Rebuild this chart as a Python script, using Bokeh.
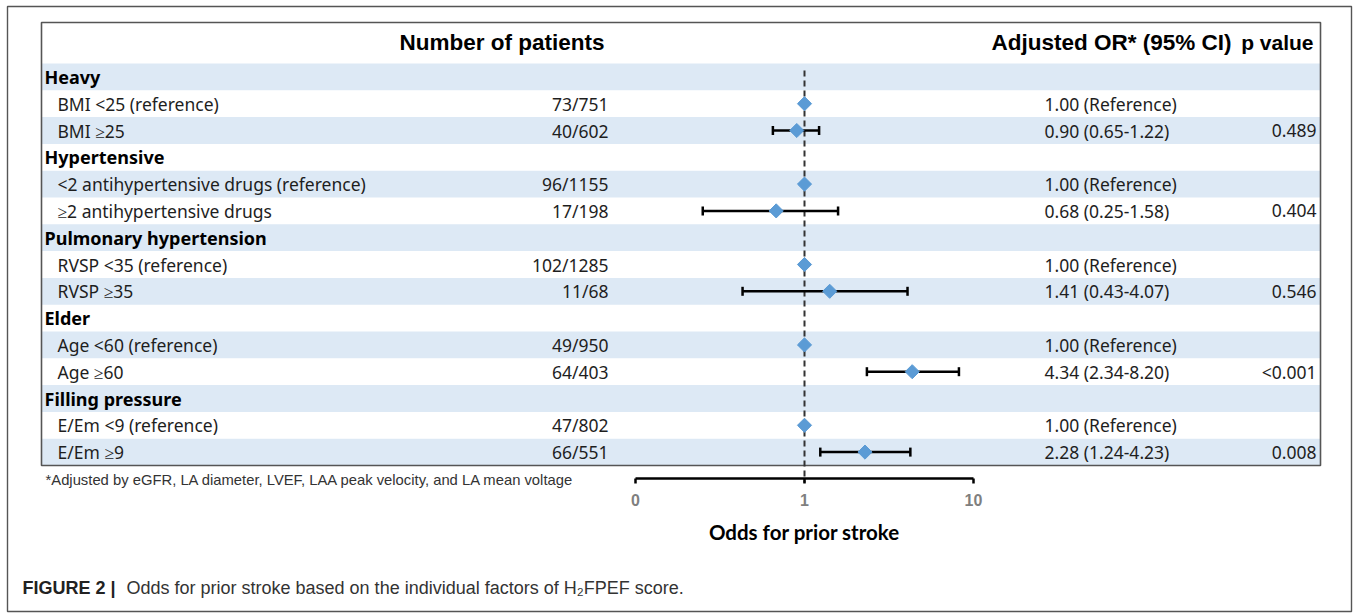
import math
from bokeh.plotting import figure
from bokeh.models import Range1d, LogScale
from bokeh.core.properties import value
from bokeh.embed import file_html
from bokeh.resources import INLINE

# ---- data -------------------------------------------------------------
groups = ["Heavy", "Hypertensive", "Pulmonary hypertension", "Elder", "Filling pressure"]
labels = [
    "BMI <25 (reference)", "BMI \u226525",
    "<2 antihypertensive drugs (reference)", "\u22652 antihypertensive drugs",
    "RVSP <35 (reference)", "RVSP \u226535",
    "Age <60 (reference)", "Age \u226560",
    "E/Em <9 (reference)", "E/Em \u22659",
]
patients = ["73/751", "40/602", "96/1155", "17/198", "102/1285",
            "11/68", "49/950", "64/403", "47/802", "66/551"]
odds = [1.00, 0.90, 1.00, 0.68, 1.00, 1.41, 1.00, 4.34, 1.00, 2.28]
ci_low = [None, 0.65, None, 0.25, None, 0.43, None, 2.34, None, 1.24]
ci_high = [None, 1.22, None, 1.58, None, 4.07, None, 8.20, None, 4.23]
p_values = ["", "0.489", "", "0.404", "", "0.546", "", "<0.001", "", "0.008"]
axis_ticks = [0.1, 1, 10]
axis_tick_labels = ["0", "1", "10"]

# ---- page geometry (pixels) -------------------------------------------
W, H = 1357, 615
BOX_L, BOX_R, BOX_T = 41, 1320, 22
ROW0, ROW_H = 63, 26.8
AX_L, AX_R, AX_Y = 635, 973, 478          # where 0.1 and 10 sit on the odds axis
DEC = (AX_R - AX_L) / 2                   # pixels per decade

BODY_FONT = value("Noto Sans")
HEAD_FONT = value("Liberation Sans")
BODY_SIZE = "17.5px"
TXT = "#1e1e1e"
BAND = "#dde9f5"
MARK = "#5b9bd5"

p = figure(width=W, height=H, x_range=Range1d(0, W), y_range=Range1d(H, 0),
           output_backend="svg", toolbar_location=None, min_border=0,
           x_axis_location=None, y_axis_location=None)
p.grid.visible = False
p.outline_line_color = None
p.background_fill_color = "white"
p.border_fill_color = "white"

# log-scaled range for the odds ratios, spanning the full canvas width
p.extra_x_ranges = {"or": Range1d(10 ** (-1 - AX_L / DEC), 10 ** (1 + (W - AX_R) / DEC))}
p.extra_x_scales = {"or": LogScale()}

# ---- rows -------------------------------------------------------------
row_text, row_x, row_style, row_y = [], [], [], []
item_rows = []
r = 0
for k, g in enumerate(groups):
    row_text.append(g); row_x.append(BOX_L + 3); row_style.append("bold")
    row_y.append(ROW0 + ROW_H * (r + 0.5)); r += 1
    for j in range(2):
        i = 2 * k + j
        row_text.append(labels[i]); row_x.append(BOX_L + 16); row_style.append("normal")
        row_y.append(ROW0 + ROW_H * (r + 0.5)); item_rows.append(ROW0 + ROW_H * (r + 0.5)); r += 1
n_rows = r

band_rows = [i for i in range(n_rows) if i % 2 == 0]
p.quad(left=BOX_L, right=BOX_R,
       top=[ROW0 + ROW_H * i for i in band_rows],
       bottom=[ROW0 + ROW_H * (i + 1) for i in band_rows],
       fill_color=BAND, line_color=None)

BOX_B = ROW0 + ROW_H * n_rows

# table frame
p.quad(left=BOX_L, right=BOX_R, top=BOX_T, bottom=BOX_B,
       fill_color=None, line_color="#555555", line_width=1.6)
# outer figure frame
p.quad(left=7, right=1351, top=6, bottom=611,
       fill_color=None, line_color="#555555", line_width=1.4)

# headers
p.text(x=[604, 1231], y=[42, 42],
       text=["Number of patients", "Adjusted OR* (95% CI)"],
       text_font=HEAD_FONT, text_font_style="bold", text_font_size="22.5px",
       text_align="right", text_baseline="middle", text_color="black")
p.text(x=[1313], y=[42], text=["p value"],
       text_font=HEAD_FONT, text_font_style="bold", text_font_size="21px",
       text_align="right", text_baseline="middle", text_color="black")

# label column
bold_i = [i for i, s in enumerate(row_style) if s == "bold"]
norm_i = [i for i, s in enumerate(row_style) if s == "normal"]
p.text(x=[row_x[i] for i in bold_i], y=[row_y[i] for i in bold_i],
       text=[row_text[i] for i in bold_i], text_font=BODY_FONT,
       text_font_style="bold", text_font_size="18px",
       text_baseline="middle", text_color="black")
p.text(x=[row_x[i] for i in norm_i], y=[row_y[i] for i in norm_i],
       text=[row_text[i] for i in norm_i], text_font=BODY_FONT,
       text_font_size=BODY_SIZE, text_baseline="middle", text_color=TXT)

# number of patients
p.text(x=608, y=item_rows, text=patients, text_font=BODY_FONT,
       text_font_size=BODY_SIZE, text_align="right", text_baseline="middle",
       text_color=TXT)

# odds ratio text
or_text = []
for o, lo, hi in zip(odds, ci_low, ci_high):
    or_text.append(f"{o:.2f} (Reference)" if lo is None else f"{o:.2f} ({lo:.2f}-{hi:.2f})")
p.text(x=1044, y=item_rows, text=or_text, text_font=BODY_FONT,
       text_font_size=BODY_SIZE, text_baseline="middle", text_color=TXT)

# p values
p.text(x=1316, y=item_rows, text=p_values, text_font=BODY_FONT,
       text_font_size=BODY_SIZE, text_align="right", text_baseline="middle",
       text_color=TXT)

# ---- forest marks -----------------------------------------------------
# reference line at OR = 1
p.segment(x0=[1], x1=[1], y0=[70], y1=[AX_Y + 4], x_range_name="or",
          line_color="#333333", line_width=2, line_dash="6 4")

ci_y = [y for y, lo in zip(item_rows, ci_low) if lo is not None]
lo_v = [lo for lo in ci_low if lo is not None]
hi_v = [hi for hi in ci_high if hi is not None]
p.segment(x0=lo_v, x1=hi_v, y0=ci_y, y1=ci_y, x_range_name="or",
          line_color="black", line_width=2.5)
p.segment(x0=lo_v + hi_v, x1=lo_v + hi_v,
          y0=[y - 4.5 for y in ci_y] * 2, y1=[y + 4.5 for y in ci_y] * 2,
          x_range_name="or", line_color="black", line_width=2.5)
p.scatter(x=odds, y=item_rows, x_range_name="or", marker="square",
          angle=math.pi / 4, size=10, fill_color=MARK, line_color=MARK)

# odds axis
p.segment(x0=[axis_ticks[0]], x1=[axis_ticks[-1]], y0=[AX_Y], y1=[AX_Y],
          x_range_name="or", line_color="black", line_width=2.5)
p.segment(x0=axis_ticks, x1=axis_ticks, y0=[AX_Y] * 3, y1=[AX_Y + 5] * 3,
          x_range_name="or", line_color="black", line_width=2.5)
p.text(x=axis_ticks, y=[499] * 3, text=axis_tick_labels, x_range_name="or",
       text_font=HEAD_FONT, text_font_style="bold", text_font_size="16px",
       text_align="center", text_baseline="middle", text_color="#7f7f7f")
p.text(x=[1], y=[531], text=["Odds for prior stroke"], x_range_name="or",
       text_font=value("Lato"), text_font_style="bold", text_font_size="20.5px",
       text_align="center", text_baseline="middle", text_color="black")

# footnote
p.text(x=[45], y=[479],
       text=["*Adjusted by eGFR, LA diameter, LVEF, LAA peak velocity, and LA mean voltage"],
       text_font=HEAD_FONT, text_font_size="14.8px", text_baseline="middle",
       text_color="#333333")

# caption
p.text(x=[22], y=[587], text=["FIGURE 2 |"], text_font=HEAD_FONT,
       text_font_style="bold", text_font_size="18px", text_baseline="middle",
       text_color="#222222")
p.text(x=[126], y=[587],
       text=["Odds for prior stroke based on the individual factors of H\u2082FPEF score."],
       text_font=HEAD_FONT, text_font_size="18px", text_baseline="middle",
       text_color="#333333")

open("out.html", "w").write(file_html(p, INLINE))
